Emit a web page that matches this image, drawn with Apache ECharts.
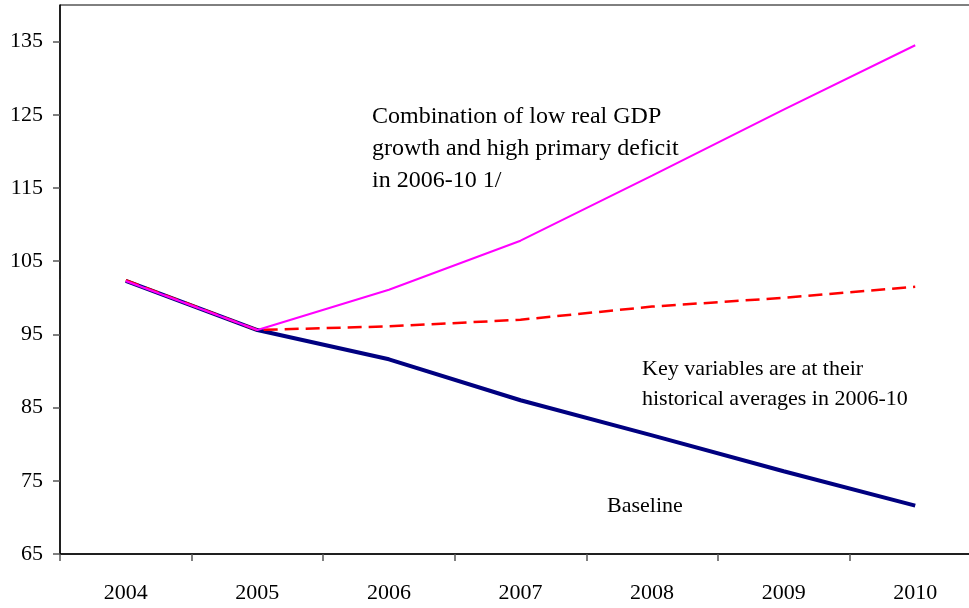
<!DOCTYPE html>
<html>
<head>
<meta charset="utf-8">
<script src="https://cdn.jsdelivr.net/npm/echarts@6/dist/echarts.min.js"></script>
<style>
html,body{margin:0;padding:0;background:#fff;}
#chart{width:969px;height:608px;}
</style>
</head>
<body>
<div id="chart"></div>
<script>
const years = ['2004', '2005', '2006', '2007', '2008', '2009', '2010'];
const baseline = [102.3, 95.6, 91.6, 86.0, 81.2, 76.3, 71.6];
const historical = [102.4, 95.6, 96.1, 97.0, 98.8, 100.0, 101.5];
const combined = [102.3, 95.6, 101.1, 107.8, 116.7, 125.7, 134.5];
const yTicks = [65, 75, 85, 95, 105, 115, 125, 135];
const noteCombined = 'Combination of low real GDP\ngrowth and high primary deficit\nin 2006-10 1/';
const noteHistorical = 'Key variables are at their\nhistorical averages in 2006-10';
const noteBaseline = 'Baseline';

const FONT = '"Liberation Serif", "Times New Roman", serif';
const chart = echarts.init(document.getElementById('chart'), null, {renderer: 'canvas'});
chart.setOption({
  animation: false,
  backgroundColor: '#ffffff',
  grid: {
    left: 60, top: 5, width: 921, height: 549,
    show: true, borderColor: '#000', borderWidth: 1,
    containLabel: false, outerBoundsMode: 'none'
  },
  xAxis: {
    type: 'category',
    data: years,
    boundaryGap: true,
    axisLine: {show: true, lineStyle: {color: '#000', width: 1.5}},
    axisTick: {show: true, length: 7, lineStyle: {color: '#555', width: 1.5}},
    axisLabel: {color: '#000', fontFamily: FONT, fontSize: 22, margin: 28},
    splitLine: {show: false}
  },
  yAxis: {
    type: 'value',
    min: 65, max: 140, interval: 10,
    axisLine: {show: true, lineStyle: {color: '#000', width: 1.5}},
    axisTick: {show: true, length: 7, customValues: yTicks, lineStyle: {color: '#555', width: 1.5}},
    axisLabel: {color: '#000', fontFamily: FONT, fontSize: 22, margin: 17, customValues: yTicks},
    splitLine: {show: false}
  },
  series: [
    {
      name: 'Baseline', type: 'line', data: baseline, symbol: 'none', smooth: false,
      lineStyle: {color: '#000080', width: 4}, z: 2
    },
    {
      name: 'Historical', type: 'line', data: historical, symbol: 'none', smooth: false,
      lineStyle: {color: '#ff0000', width: 2.5, type: [14, 7]}, z: 3
    },
    {
      name: 'Combined', type: 'line', data: combined, symbol: 'none', smooth: false,
      lineStyle: {color: '#ff00ff', width: 2}, z: 4
    }
  ],
  graphic: [
    {type: 'text', left: 372, top: 101, z: 10,
      style: {text: noteCombined, font: '24px ' + FONT, fill: '#000', lineHeight: 32}},
    {type: 'text', left: 642, top: 354, z: 10,
      style: {text: noteHistorical, font: '22px ' + FONT, fill: '#000', lineHeight: 30}},
    {type: 'text', left: 607, top: 491, z: 10,
      style: {text: noteBaseline, font: '22px ' + FONT, fill: '#000', lineHeight: 30}}
  ]
});
</script>
</body>
</html>
